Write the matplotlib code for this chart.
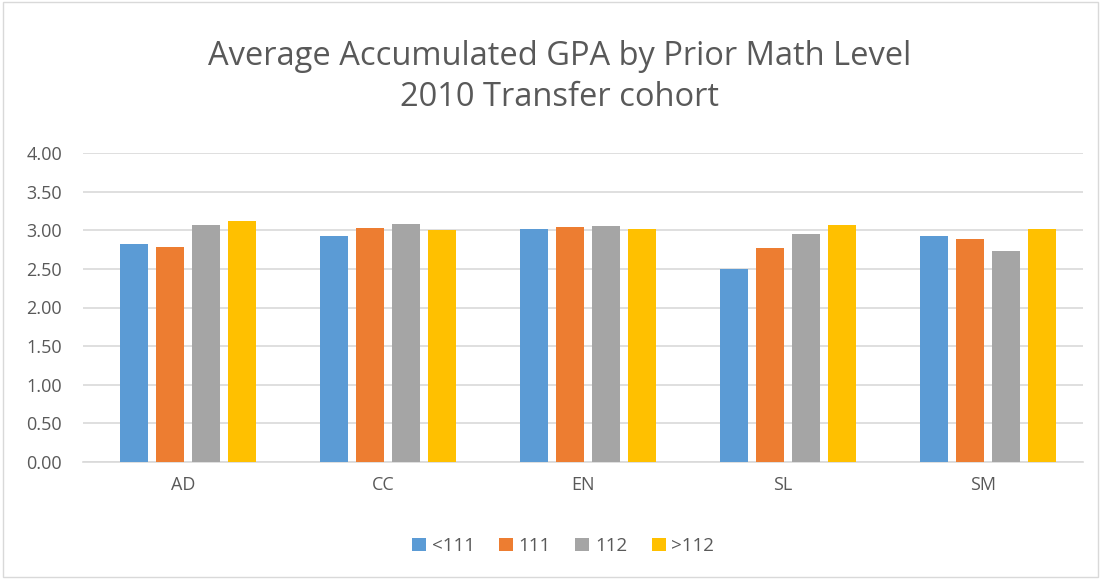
import numpy as np
import matplotlib
matplotlib.use("Agg")
import matplotlib.pyplot as plt
from matplotlib.patches import Rectangle

categories = ["AD", "CC", "EN", "SL", "SM"]
series_names = ["<111", "111", "112", ">112"]
below_111 = [2.82, 2.93, 3.01, 2.50, 2.93]
math_111 = [2.78, 3.03, 3.04, 2.77, 2.89]
math_112 = [3.07, 3.08, 3.05, 2.95, 2.73]
above_112 = [3.12, 3.00, 3.01, 3.07, 3.02]
colors = ["#5B9BD5", "#ED7D31", "#A5A5A5", "#FFC000"]

plt.rcParams["font.family"] = ["Open Sans", "DejaVu Sans"]

fig = plt.figure(figsize=(11.01, 5.79), dpi=100)
ax = fig.add_axes([83 / 1101, 1 - 462 / 579, 1000 / 1101, 309 / 579])

x = np.arange(len(categories))
width = 0.14
step = 0.18
for i, (vals, name) in enumerate(zip([below_111, math_111, math_112, above_112], series_names)):
    ax.bar(x + (i - 1.5) * step + 0.025, vals, width, color=colors[i], label=name, zorder=3)

ax.set_xlim(-0.5, len(categories) - 0.5)
ax.set_ylim(0, 4)
ax.set_yticks(np.arange(0, 4.01, 0.5))
ax.set_yticklabels([f"{v:.2f}" for v in np.arange(0, 4.01, 0.5)])
ax.set_xticks(x)
ax.set_xticklabels(categories)
ax.tick_params(axis="both", length=0, colors="#595959", labelsize=13)
ax.tick_params(axis="y", pad=15)
ax.tick_params(axis="x", pad=10)
ax.grid(axis="y", color="#D9D9D9", linewidth=1.2, zorder=0)
for s in ["top", "right", "left"]:
    ax.spines[s].set_visible(False)
ax.spines["bottom"].set_color("#D9D9D9")
ax.spines["bottom"].set_linewidth(1.2)

fig.text(0.508, 1 - 77 / 579, "Average Accumulated GPA by Prior Math Level\n2010 Transfer cohort",
         ha="center", va="center", fontsize=23.5, color="#595959", linespacing=1.3)

fig.legend(loc="center", bbox_to_anchor=(563 / 1101, 1 - 546 / 579), ncol=4, frameon=False,
           fontsize=13.5, labelcolor="#595959", handlelength=0.75, handleheight=0.75,
           handletextpad=0.3, columnspacing=1.3)

fig.patches.append(Rectangle((0.003, 0.003), 0.994, 0.994, transform=fig.transFigure,
                             fill=False, edgecolor="#D9D9D9", linewidth=1))

fig.savefig("out.png", dpi=100)
